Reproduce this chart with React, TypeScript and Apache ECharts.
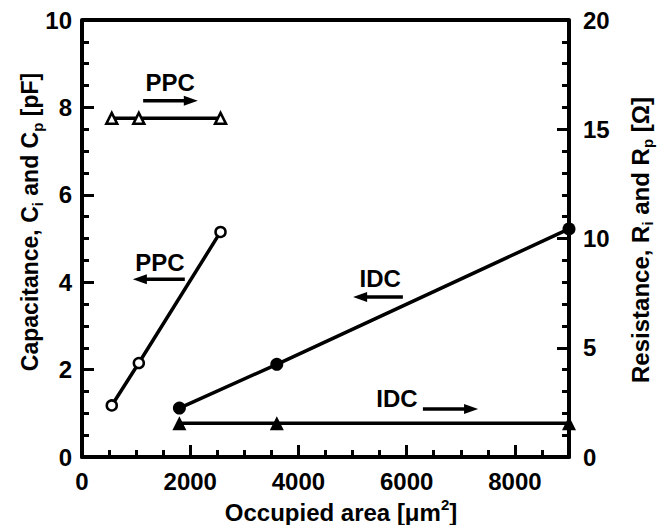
import React, { useEffect, useRef } from 'react';
import * as echarts from 'echarts';

// ---- data ----
const ppcArea = [550, 1050, 2560];
const ppcCapacitance = [1.18, 2.15, 5.15];
const ppcResistance = [15.5, 15.5, 15.5];
const idcArea = [1800, 3600, 9000];
const idcCapacitance = [1.12, 2.12, 5.22];
const idcResistance = [1.55, 1.55, 1.55];

// axis ranges / ticks
const xRange = [0, 9000];
const xMajor = 2000;
const xMinorSplit = 4;
const capRange = [0, 10];
const capMajor = 2;
const capMinorSplit = 4;
const resRange = [0, 20];
const resMajor = 5;
const resMinorSplit = 5;

// annotations (data coordinates on the capacitance axis)
const noteLabels = ['PPC', 'PPC', 'IDC', 'IDC'];
const noteTextAt = [[1630, 8.58], [1440, 4.46], [5510, 4.09], [5820, 1.35]];
const noteTail = [[1130, 8.15], [1900, 4.07], [5930, 3.66], [6300, 1.1]];
const noteHead = [[2140, 8.15], [940, 4.07], [5010, 3.66], [7320, 1.1]];

const FONT = '"Liberation Sans", Arial, Helvetica, sans-serif';
const W = 661;
const H = 525;

function buildOption(): any {
  return {
    animation: false,
    grid: { left: 82, right: 92, top: 20, bottom: 68 },
    xAxis: {
      type: 'value', min: xRange[0], max: xRange[1], interval: xMajor,
      axisLine: { show: true, onZero: false, lineStyle: { color: '#000', width: 4 } },
      axisTick: { show: true, inside: true, length: 12, lineStyle: { color: '#000', width: 3 } },
      minorTick: { show: true, splitNumber: xMinorSplit, length: 7, lineStyle: { color: '#000', width: 3 } },
      axisLabel: { fontSize: 24, fontWeight: 'bold', color: '#000', fontFamily: FONT, margin: 12, formatter: (v: number) => String(v), showMaxLabel: false },
      splitLine: { show: false },
    },
    yAxis: [
      {
        type: 'value', min: capRange[0], max: capRange[1], interval: capMajor,
        axisLine: { show: true, lineStyle: { color: '#000', width: 4 } },
        axisTick: { show: true, inside: true, length: 12, lineStyle: { color: '#000', width: 3 } },
        minorTick: { show: true, splitNumber: capMinorSplit, length: 7, lineStyle: { color: '#000', width: 3 } },
        axisLabel: { fontSize: 24, fontWeight: 'bold', color: '#000', fontFamily: FONT, margin: 10 },
        splitLine: { show: false },
      },
      {
        type: 'value', min: resRange[0], max: resRange[1], interval: resMajor,
        axisLine: { show: true, lineStyle: { color: '#000', width: 4 } },
        axisTick: { show: true, inside: true, length: 12, lineStyle: { color: '#000', width: 3 } },
        minorTick: { show: true, splitNumber: resMinorSplit, length: 7, lineStyle: { color: '#000', width: 3 } },
        axisLabel: { fontSize: 24, fontWeight: 'bold', color: '#000', fontFamily: FONT, margin: 14, formatter: (v: number) => String(v) },
        splitLine: { show: false },
      },
    ],
    series: [
      {
        type: 'line', name: 'PPC capacitance', yAxisIndex: 0,
        data: ppcArea.map((x, i) => [x, ppcCapacitance[i]]),
        symbol: 'circle', symbolSize: 10,
        itemStyle: { color: '#fff', borderColor: '#000', borderWidth: 2.5 },
        lineStyle: { color: '#000', width: 3.5 },
      },
      {
        type: 'line', name: 'IDC capacitance', yAxisIndex: 0,
        data: idcArea.map((x, i) => [x, idcCapacitance[i]]),
        symbol: 'circle', symbolSize: 13,
        itemStyle: { color: '#000', borderColor: '#000', borderWidth: 0 },
        lineStyle: { color: '#000', width: 3.5 },
      },
      {
        type: 'line', name: 'PPC resistance', yAxisIndex: 1,
        data: ppcArea.map((x, i) => [x, ppcResistance[i]]),
        symbol: 'triangle', symbolSize: 11,
        itemStyle: { color: '#fff', borderColor: '#000', borderWidth: 2.5 },
        lineStyle: { color: '#000', width: 3.5 },
      },
      {
        type: 'line', name: 'IDC resistance', yAxisIndex: 1,
        data: idcArea.map((x, i) => [x, idcResistance[i]]),
        symbol: 'triangle', symbolSize: 14,
        itemStyle: { color: '#000', borderColor: '#000', borderWidth: 0 },
        lineStyle: { color: '#000', width: 3.5 },
      },
    ],
  };
}

function buildGraphics(): any[] {
  const tmp = echarts.init(document.createElement('div'), undefined, { renderer: 'svg', width: W, height: H });
  tmp.setOption(buildOption());
  const finder = { xAxisIndex: 0, yAxisIndex: 0 };
  const sub = { fontSize: 15, fontWeight: 'bold', fontFamily: FONT, fill: '#000', lineHeight: 16, verticalAlign: 'bottom' };
  const sup = { fontSize: 15, fontWeight: 'bold', fontFamily: FONT, fill: '#000', lineHeight: 16, verticalAlign: 'top' };
  const graphics: any[] = [
    {
      type: 'line', z: 10, shape: { x1: 82, y1: 20, x2: 569, y2: 20 }, style: { stroke: '#000', lineWidth: 4 },
    },
    {
      type: 'text', x: 341, y: 512, z: 10,
      style: {
        text: 'Occupied area [μm{sup|2}]', fontSize: 24, fontWeight: 'bold', fontFamily: FONT, fill: '#000',
        lineHeight: 30, align: 'center', verticalAlign: 'middle', rich: { sup },
      },
    },
    {
      type: 'text', x: 30, y: 222, rotation: Math.PI / 2, z: 10,
      style: {
        text: 'Capacitance, C{sub|i} and C{sub|p} [pF]', fontSize: 23, fontWeight: 'bold', fontFamily: FONT, fill: '#000',
        lineHeight: 30, align: 'center', verticalAlign: 'middle', rich: { sub },
      },
    },
    {
      type: 'text', x: 640, y: 240, rotation: Math.PI / 2, z: 10,
      style: {
        text: 'Resistance, R{sub|i} and R{sub|p} [Ω]', fontSize: 24, fontWeight: 'bold', fontFamily: FONT, fill: '#000',
        lineHeight: 30, align: 'center', verticalAlign: 'middle', rich: { sub },
      },
    },
  ];
  const headLen = 14;
  const headHalf = 5;
  noteLabels.forEach((label, i) => {
    const t = tmp.convertToPixel(finder, noteTextAt[i]) as number[];
    const p0 = tmp.convertToPixel(finder, noteTail[i]) as number[];
    const p1 = tmp.convertToPixel(finder, noteHead[i]) as number[];
    const d = p1[0] > p0[0] ? 1 : -1;
    const base = p1[0] - d * headLen;
    graphics.push({
      type: 'text', x: t[0], y: t[1], z: 10,
      style: { text: label, fontSize: 24, fontWeight: 'bold', fontFamily: FONT, fill: '#000', align: 'center', verticalAlign: 'middle' },
    });
    graphics.push({
      type: 'line', z: 10,
      shape: { x1: p0[0], y1: p0[1], x2: base + d * 1, y2: p1[1] },
      style: { stroke: '#000', lineWidth: 3.5 },
    });
    graphics.push({
      type: 'polygon', z: 10,
      shape: { points: [[p1[0], p1[1]], [base, p1[1] - headHalf], [base, p1[1] + headHalf]] },
      style: { fill: '#000' },
    });
  });
  tmp.dispose();
  return graphics;
}

export default function App() {
  const ref = useRef<HTMLDivElement>(null);
  useEffect(() => {
    if (!ref.current) return;
    const graphics = buildGraphics();
    const chart = echarts.init(ref.current, undefined, { renderer: 'svg' });
    const option = buildOption();
    option.graphic = graphics;
    chart.setOption(option);
    return () => chart.dispose();
  }, []);
  return <div ref={ref} style={{ position: 'absolute', left: 0, top: 0, width: W, height: H, background: '#fff' }} />;
}
